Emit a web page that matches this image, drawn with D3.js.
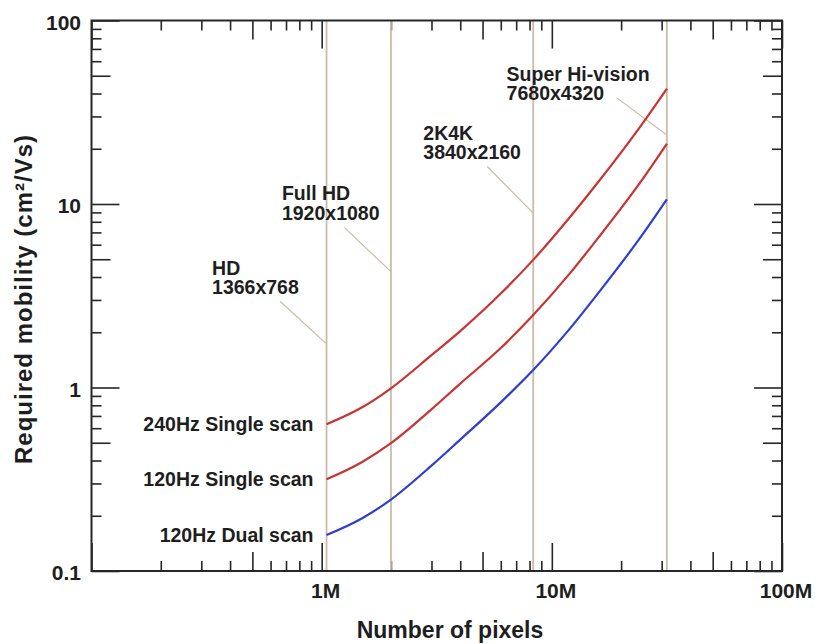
<!DOCTYPE html>
<html>
<head>
<meta charset="utf-8">
<script src="https://cdn.jsdelivr.net/npm/d3@7"></script>
<style>
body { margin: 0; background: #fff; }
text { font-family: "Liberation Sans", Arial, Helvetica, sans-serif; font-weight: bold; fill: #1e1e1e; }
</style>
</head>
<body>
<svg id="chart" width="820" height="644"></svg>
<script>

var pixelCounts  = [1.05e6, 1.5e6, 2e6, 3e6, 4e6, 6e6, 8.3e6, 12e6, 16e6, 24e6, 31.6e6];
var mob240single = [0.63, 0.78, 0.99, 1.5, 2.03, 3.25, 4.96, 8.5, 13.3, 26, 42.5];
var mob120single = [0.316, 0.393, 0.497, 0.76, 1.05, 1.64, 2.48, 4.2, 6.6, 12.9, 21.3];
var mob120dual   = [0.157, 0.194, 0.245, 0.375, 0.52, 0.83, 1.245, 2.1, 3.3, 6.45, 10.6];
var seriesNames  = ["240Hz Single scan", "120Hz Single scan", "120Hz Dual scan"];

// display formats (vertical lines)
var formatNames  = ["HD", "Full HD", "2K4K", "Super Hi-vision"];
var formatSizes  = ["1366x768", "1920x1080", "3840x2160", "7680x4320"];
var formatPixels = [1.05e6, 2.0e6, 8.3e6, 31.6e6];
// label anchor + leader line, in data units
var labelPixels  = [3.34e5, 6.72e5, 2.765e6, 6.36e6];
var labelMob     = [4.11, 10.5, 22.4, 46.9];
var leaderPixels = [6.61e5, 1.256e6, 5.24e6, 1.91e7];
var leaderMob    = [2.94, 7.43, 16.0, 38.0];
var leaderEndMob = [1.73, 4.28, 8.91, 23.8];

var xTickValues = [1e6, 1e7, 1e8];
var xTickLabels = ["1M", "10M", "100M"];
var yTickValues = [0.1, 1, 10, 100];
var yTickLabels = ["0.1", "1", "10", "100"];

var plotL = 91.5, plotR = 782, plotT = 20.5, plotB = 571;

var svg = d3.select("#chart");

var x = d3.scaleLog().domain([1e5, 1e8]).range([plotL, plotR]);
var y = d3.scaleLog().domain([0.1, 100]).range([plotB, plotT]);

/* tick groups: major (1), mid (5), minor (rest) -- all drawn inward */
function tickGroups(lo, hi) {
	var major = [], mid = [], minor = [];
	for (var d = lo; d < hi * 0.999; d *= 10) {
		for (var k = 1; k < 10; k++) {
			var v = k * d;
			if (k == 1) major.push(v);
			else if (k == 5) mid.push(v);
			else minor.push(v);
		}
	}
	major.push(hi);
	return [[major, 28], [mid, 19], [minor, 10]];
}

var frameColor = "#262626";

tickGroups(1e5, 1e8).forEach(function (g) {
	svg.append("g").attr("transform", "translate(0," + plotB + ")")
		.call(d3.axisBottom(x).tickValues(g[0]).tickSizeInner(-g[1]).tickSizeOuter(0).tickFormat(""));
	svg.append("g").attr("transform", "translate(0," + plotT + ")")
		.call(d3.axisTop(x).tickValues(g[0]).tickSizeInner(-g[1]).tickSizeOuter(0).tickFormat(""));
});
tickGroups(0.1, 100).forEach(function (g) {
	svg.append("g").attr("transform", "translate(" + plotL + ",0)")
		.call(d3.axisLeft(y).tickValues(g[0]).tickSizeInner(-g[1]).tickSizeOuter(0).tickFormat(""));
	svg.append("g").attr("transform", "translate(" + plotR + ",0)")
		.call(d3.axisRight(y).tickValues(g[0]).tickSizeInner(-g[1]).tickSizeOuter(0).tickFormat(""));
});
svg.selectAll(".domain").remove();
svg.selectAll(".tick line").attr("stroke", frameColor).attr("stroke-width", 1.6);

// vertical lines for display formats
svg.selectAll("line.fmt").data(formatPixels).enter().append("line")
	.attr("class", "fmt")
	.attr("x1", function (d) { return x(d); }).attr("x2", function (d) { return x(d); })
	.attr("y1", plotB).attr("y2", plotT)
	.attr("stroke", "#cbbba9").attr("stroke-width", 1.8);

// frame
svg.append("rect").attr("x", plotL).attr("y", plotT)
	.attr("width", plotR - plotL).attr("height", plotB - plotT)
	.attr("fill", "none").attr("stroke", frameColor).attr("stroke-width", 2);

// leader lines + format labels
formatNames.forEach(function (name, i) {
	svg.append("line")
		.attr("x1", x(leaderPixels[i])).attr("y1", y(leaderMob[i]))
		.attr("x2", x(formatPixels[i])).attr("y2", y(leaderEndMob[i]))
		.attr("stroke", "#c9bba9").attr("stroke-width", 1.2);
	var t = svg.append("text").attr("x", x(labelPixels[i])).attr("y", y(labelMob[i]))
		.style("font-size", "19.5px");
	t.append("tspan").text(name);
	t.append("tspan").attr("x", x(labelPixels[i])).attr("dy", 19.5).text(formatSizes[i]);
});

// curves
var series = [mob240single, mob120single, mob120dual];
var colors = ["#c93331", "#c93331", "#2c3fcf"];
var line = d3.line()
	.x(function (d) { return x(d[0]); })
	.y(function (d) { return y(d[1]); })
	.curve(d3.curveMonotoneX);

series.forEach(function (vals, i) {
	var pts = pixelCounts.map(function (p, j) { return [p, vals[j]]; });
	svg.append("path").datum(pts)
		.attr("d", line)
		.attr("fill", "none")
		.attr("stroke", colors[i])
		.attr("stroke-width", 2.2);
	svg.append("text")
		.attr("x", x(pixelCounts[0]) - 13)
		.attr("y", y(vals[0]) + 6.5)
		.attr("text-anchor", "end")
		.style("font-size", "19.5px")
		.text(seriesNames[i]);
});

// tick labels
svg.selectAll("text.xl").data(xTickValues).enter().append("text")
	.attr("class", "xl")
	.attr("x", function (d) { return x(d) + 4; })
	.attr("y", 598)
	.attr("text-anchor", "middle")
	.style("font-size", "21px")
	.text(function (d, i) { return xTickLabels[i]; });

svg.selectAll("text.yl").data(yTickValues).enter().append("text")
	.attr("class", "yl")
	.attr("x", 81)
	.attr("y", function (d) { return y(d) + 9; })
	.attr("text-anchor", "end")
	.style("font-size", "21px")
	.text(function (d, i) { return yTickLabels[i]; });

// axis titles
svg.append("text")
	.attr("x", 450).attr("y", 638)
	.attr("text-anchor", "middle")
	.style("font-size", "23px")
	.text("Number of pixels");

svg.append("text")
	.attr("transform", "translate(32,299) rotate(-90)")
	.attr("text-anchor", "middle")
	.style("font-size", "24px")
	.style("letter-spacing", "1px")
	.text("Required mobility (cm²/Vs)");

</script>
</body>
</html>
